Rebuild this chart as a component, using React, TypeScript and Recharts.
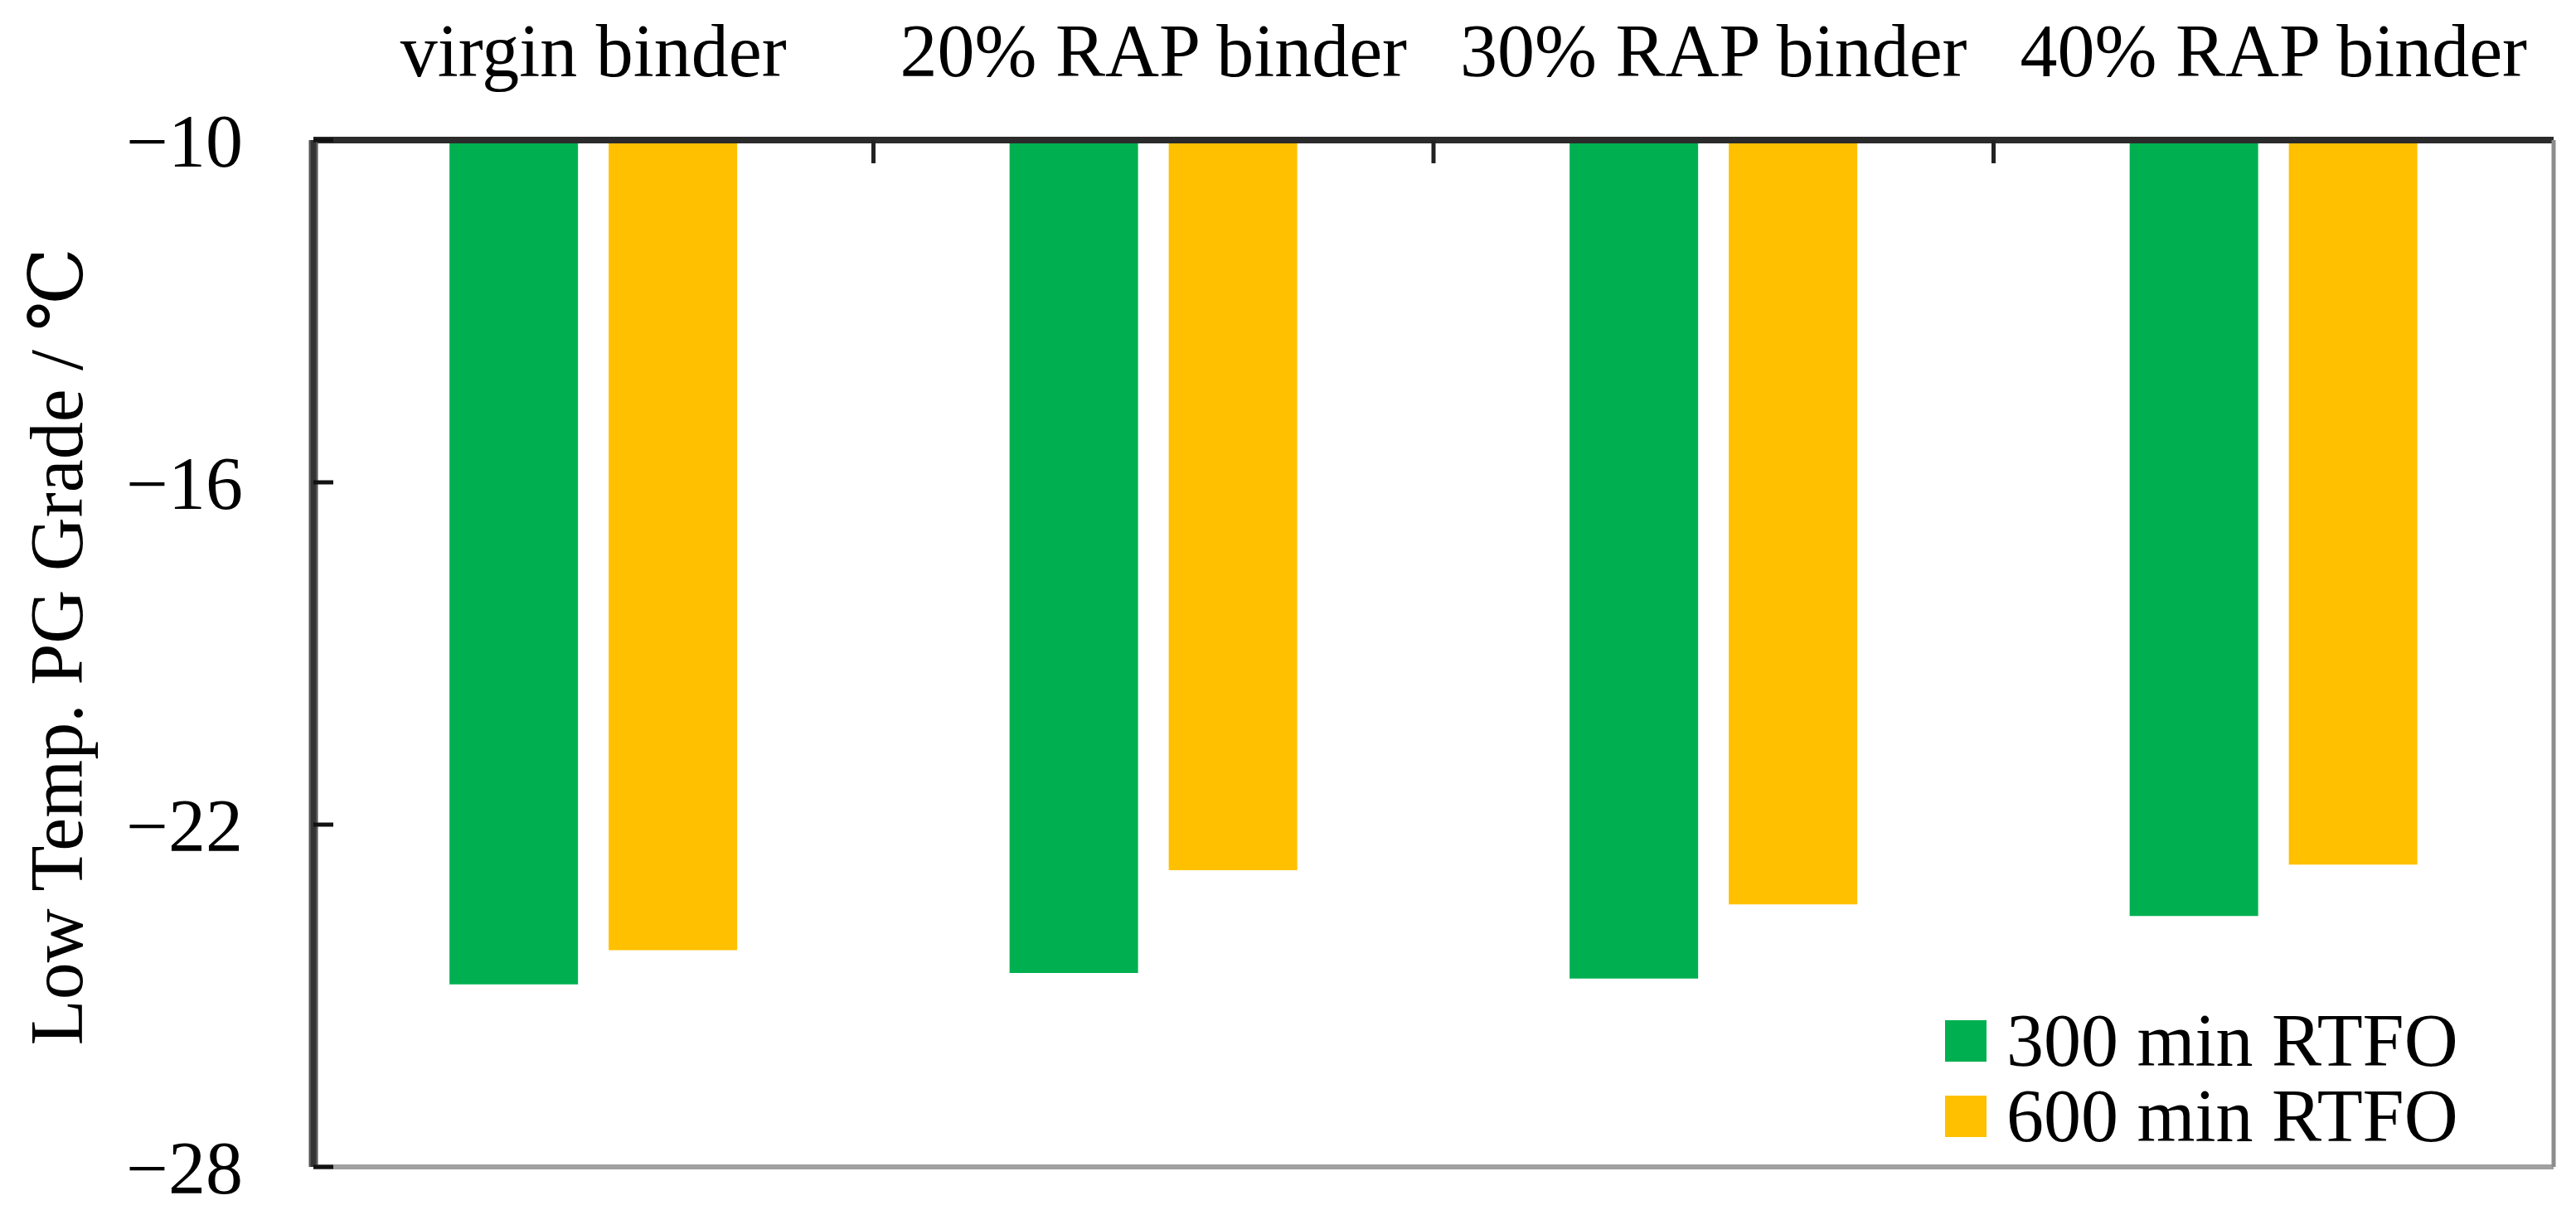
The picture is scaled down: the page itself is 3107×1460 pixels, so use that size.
import React from 'react';
import { BarChart, Bar, XAxis, YAxis, Legend, Label } from 'recharts';

const FONT = '"Liberation Serif", "Times New Roman", "DejaVu Serif", serif';

const categories = ['virgin binder', '20% RAP binder', '30% RAP binder', '40% RAP binder'];
const rtfo300 = [-24.8, -24.6, -24.7, -23.6];
const rtfo600 = [-24.2, -22.8, -23.4, -22.7];
const seriesNames = ['300 min RTFO', '600 min RTFO'];
const yTicks = [-10, -16, -22, -28];
const groupEdges = [1, 2, 3];

// pos = group index centre, used only by the helper axis that draws the group separators
const data = categories.map((name, i) => ({
    name,
    pos: i + 0.5,
    rtfo300: rtfo300[i],
    rtfo600: rtfo600[i],
}));

const tickStyle = { fontSize: 90, fill: '#000', fontFamily: FONT };

const renderLegend = (props: any) => (
    <div style={{ fontFamily: FONT, fontSize: 90, color: '#000' }}>
        {(props.payload || []).map((p: any) => (
            <div
                key={p.value}
                style={{ display: 'flex', alignItems: 'center', height: 91, lineHeight: '91px', whiteSpace: 'nowrap' }}
            >
                <span style={{ display: 'inline-block', width: 50, height: 50, background: p.color, marginRight: 24 }} />
                <span>{p.value}</span>
            </div>
        ))}
    </div>
);

const yLabel = () => (
    <text
        x={69}
        y={780}
        dy="0.33em"
        transform="rotate(-90 69 780)"
        textAnchor="middle"
        fontSize={90}
        fontFamily={FONT}
        fill="#000"
    >
        Low Temp. PG Grade / ℃
    </text>
);

const App: React.FC = () => {
    return (
        <div style={{ position: 'absolute', left: 0, top: 0, background: '#fff' }}>
            <BarChart
                width={3107}
                height={1460}
                data={data}
                margin={{ top: 0, right: 27, bottom: 52, left: 0 }}
                barCategoryGap="24.3%"
                barGap={37}
            >
                <XAxis
                    dataKey="name"
                    orientation="top"
                    height={169}
                    interval={0}
                    tickSize={0}
                    tickLine={false}
                    tickMargin={77}
                    tick={tickStyle}
                    axisLine={{ stroke: '#2b2b2b', strokeWidth: 8 }}
                />
                <XAxis
                    xAxisId="edges"
                    dataKey="pos"
                    type="number"
                    orientation="top"
                    mirror
                    domain={[0, 4]}
                    ticks={groupEdges}
                    allowDataOverflow
                    interval={0}
                    tickSize={28}
                    tickFormatter={() => ''}
                    axisLine={false}
                    tickLine={{ stroke: '#222', strokeWidth: 5 }}
                />
                <XAxis
                    xAxisId="bottom"
                    dataKey="pos"
                    type="number"
                    orientation="bottom"
                    mirror
                    domain={[0, 4]}
                    allowDataOverflow
                    tick={false}
                    tickLine={false}
                    axisLine={{ stroke: '#a0a0a0', strokeWidth: 6 }}
                />
                <YAxis
                    type="number"
                    domain={[-28, -10]}
                    ticks={yTicks}
                    allowDataOverflow
                    interval={0}
                    width={378}
                    tickSize={0}
                    tickMargin={85}
                    tick={tickStyle}
                    tickFormatter={(v: number) => String(v).replace('-', '\u2212')}
                    axisLine={{ stroke: '#555', strokeWidth: 11 }}
                    tickLine={false}
                >
                    <Label content={yLabel} />
                </YAxis>
                <YAxis
                    yAxisId="inner"
                    type="number"
                    mirror
                    domain={[-28, -10]}
                    ticks={yTicks}
                    allowDataOverflow
                    interval={0}
                    tickSize={24}
                    tickFormatter={() => ''}
                    axisLine={{ stroke: '#333', strokeWidth: 6 }}
                    tickLine={{ stroke: '#111', strokeWidth: 5 }}
                />
                <YAxis
                    yAxisId="right"
                    type="number"
                    orientation="right"
                    mirror
                    domain={[-28, -10]}
                    allowDataOverflow
                    tick={false}
                    tickLine={false}
                    axisLine={{ stroke: '#8c8c8c', strokeWidth: 5 }}
                />
                <Legend
                    content={renderLegend}
                    layout="horizontal"
                    verticalAlign="middle"
                    align="center"
                    wrapperStyle={{ left: 2346, top: 1210, width: 'auto', height: 'auto' }}
                />
                <Bar dataKey="rtfo300" name={seriesNames[0]} fill="#00B050" isAnimationActive={false} />
                <Bar dataKey="rtfo600" name={seriesNames[1]} fill="#FFC000" isAnimationActive={false} />
            </BarChart>
        </div>
    );
};

export default App;
